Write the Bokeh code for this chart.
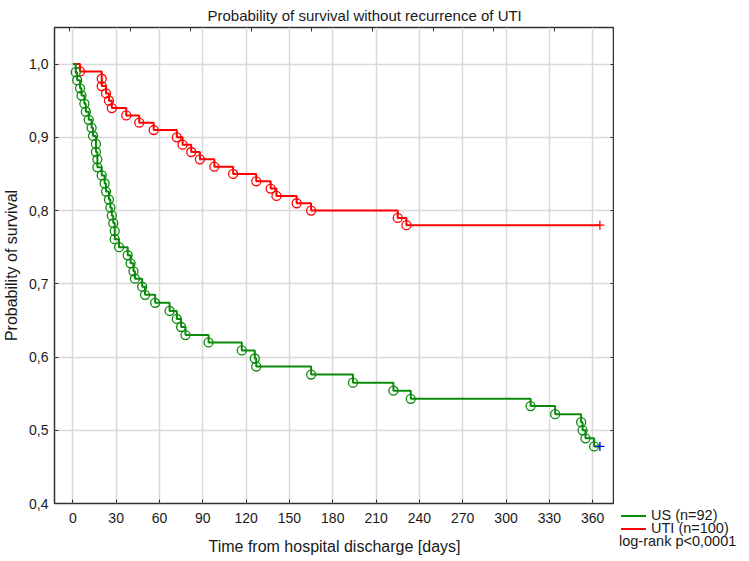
import html
from bokeh.plotting import figure
from bokeh.layouts import row
from bokeh.models import Range1d, LinearAxis, FixedTicker, CustomJSTickFormatter, Div
from bokeh.embed import file_html
from bokeh.resources import INLINE

# ---- data ----
us_times = [2, 3, 5, 6, 8, 9, 11, 13, 14, 16, 16, 17, 17, 20, 22, 23, 25, 26, 27, 28,
            29, 29, 32, 38, 40, 42, 43, 48, 50, 57, 67, 72, 75, 78, 94, 117, 126, 127,
            165, 194, 222, 234, 317, 334, 352, 353, 355, 361]
us_surv = [0.989, 0.978, 0.967, 0.957, 0.946, 0.935, 0.924, 0.913, 0.902, 0.891,
           0.880, 0.870, 0.859, 0.848, 0.837, 0.826, 0.815, 0.804, 0.793, 0.783,
           0.772, 0.761, 0.750, 0.739, 0.728, 0.717, 0.707, 0.696, 0.685, 0.674,
           0.663, 0.652, 0.641, 0.630, 0.620, 0.609, 0.598, 0.587, 0.576, 0.565,
           0.554, 0.543, 0.533, 0.522, 0.511, 0.500, 0.489, 0.478]
us_censor_time = [365]
us_censor_surv = [0.478]

uti_times = [5, 20, 20, 23, 25, 27, 37, 46, 56, 72, 76, 82, 88, 98, 111, 127, 137, 141,
             155, 165, 225, 231]
uti_surv = [0.99, 0.98, 0.97, 0.96, 0.95, 0.94, 0.93, 0.92, 0.91, 0.90, 0.89, 0.88,
            0.87, 0.86, 0.85, 0.84, 0.83, 0.82, 0.81, 0.80, 0.79, 0.78]
uti_censor_time = [365]
uti_censor_surv = [0.78]

series_labels = ["US (n=92)", "UTI (n=100)"]
test_label = "log-rank p<0,0001"

x_ticks = [0, 30, 60, 90, 120, 150, 180, 210, 240, 270, 300, 330, 360]
y_ticks = [0.4, 0.5, 0.6, 0.7, 0.8, 0.9, 1.0]
y_tick_labels = ["0,4", "0,5", "0,6", "0,7", "0,8", "0,9", "1,0"]
top_ticks = [-2.4, 39.6, 81.6, 123.6, 165.6, 207.6, 249.6, 291.6, 333.6]

FONT = "Liberation Sans"
GREEN = "#0a8a0a"
RED = "#ff0000"
BLUE = "#0000ff"
TXT = "#1a1a1a"

p = figure(frame_width=560, frame_height=476,
           x_range=Range1d(-12.7, 375.1), y_range=Range1d(0.4, 1.05),
           output_backend="svg", toolbar_location=None,
           min_border_left=49, min_border_right=0, min_border_top=0, min_border_bottom=0,
           background_fill_color="white", border_fill_color="white")

p.title.text = "Probability of survival without recurrence of UTI"
p.title.align = "left"
p.title.offset = 153
p.title.text_font = FONT
p.title.text_font_size = "15px"
p.title.text_font_style = "normal"
p.title.text_color = TXT
p.title.standoff = 8

p.outline_line_color = "#303030"
p.outline_line_width = 1.5
p.outline_line_alpha = 1

xa = p.xaxis[0]
xa.ticker = FixedTicker(ticks=x_ticks)
xa.axis_label = "Time from hospital discharge [days]"
ya = p.yaxis[0]
ya.ticker = FixedTicker(ticks=y_ticks)
ya.major_label_overrides = {v: s for v, s in zip(y_ticks, y_tick_labels)}
ya.axis_label = "Probability of survival"
for ax in (xa, ya):
    ax.axis_line_color = None
    ax.major_tick_in = 4
    ax.major_tick_out = 0
    ax.major_tick_line_color = "#303030"
    ax.minor_tick_line_color = None
    ax.major_label_text_font = FONT
    ax.major_label_text_font_size = "14px"
    ax.major_label_text_color = TXT
    ax.axis_label_text_font = FONT
    ax.axis_label_text_font_size = "16px"
    ax.axis_label_text_font_style = "normal"
    ax.axis_label_text_color = TXT
xa.major_label_standoff = 9
xa.axis_label_standoff = 12
ya.major_label_standoff = 6
ya.axis_label_standoff = 6

ra = LinearAxis(ticker=FixedTicker(ticks=y_ticks))
ta = LinearAxis(ticker=FixedTicker(ticks=top_ticks))
for ax in (ra, ta):
    ax.axis_line_color = None
    ax.major_tick_in = 4
    ax.major_tick_out = 0
    ax.major_tick_line_color = "#303030"
    ax.minor_tick_line_color = None
    ax.formatter = CustomJSTickFormatter(code="return ''")
    ax.major_label_standoff = 0
p.add_layout(ra, "right")
p.add_layout(ta, "above")

p.xgrid.ticker = FixedTicker(ticks=x_ticks)
p.ygrid.ticker = FixedTicker(ticks=y_ticks)
for g in (p.xgrid[0], p.ygrid[0]):
    g.grid_line_color = "#d9d9d9"
    g.grid_line_width = 1.5

uti_x = [0] + uti_times + uti_censor_time
uti_y = [1.0] + uti_surv + uti_censor_surv
us_x = [0] + us_times + us_censor_time
us_y = [1.0] + us_surv + us_censor_surv

p.step(uti_x, uti_y, mode="after", line_color=RED, line_width=2)
p.scatter(uti_times, uti_surv, marker="circle", size=9, fill_color=None,
          line_color=RED, line_width=1.3)
p.scatter(uti_censor_time, uti_censor_surv, marker="cross", size=9,
          line_color=RED, line_width=1.3)

p.step(us_x, us_y, mode="after", line_color=GREEN, line_width=2)
p.scatter(us_times, us_surv, marker="circle", size=9, fill_color=None,
          line_color=GREEN, line_width=1.3)
p.scatter(us_censor_time, us_censor_surv, marker="cross", size=9,
          line_color=BLUE, line_width=1.3)

# ---- legend block to the right of the plot (HTML text) ----
legend_colors = [GREEN, RED]
legend_tops = [507, 520]
parts = []
for lab, col, top in zip(series_labels, legend_colors, legend_tops):
    parts.append(
        f'<div style="position:absolute;left:7px;top:{top}px;height:16px;line-height:16px;'
        f'white-space:nowrap;">'
        f'<span style="display:inline-block;width:25px;height:2px;background:{col};'
        f'vertical-align:middle;margin-right:5px;"></span>{html.escape(lab)}</div>')
parts.append(
    f'<div style="position:absolute;left:5px;top:533px;height:16px;line-height:16px;'
    f'white-space:nowrap;">{html.escape(test_label)}</div>')
legend_html = (f'<div style="position:relative;width:130px;height:550px;'
               f'font-family:\'{FONT}\';font-size:14.5px;color:{TXT};">'
               + "".join(parts) + '</div>')
legend_div = Div(text=legend_html, width=130, height=550, margin=0)

layout = row(p, legend_div, spacing=0)
open("out.html", "w").write(file_html(layout, INLINE))
